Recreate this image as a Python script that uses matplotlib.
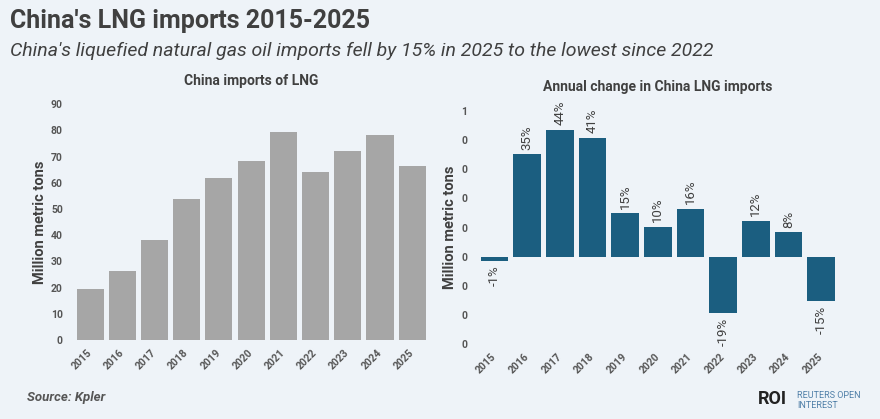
import matplotlib
matplotlib.use("Agg")
import matplotlib.pyplot as plt
from matplotlib.ticker import FuncFormatter
import numpy as np

# China LNG imports, million metric tons
years = ["2015", "2016", "2017", "2018", "2019", "2020", "2021", "2022", "2023", "2024", "2025"]
imports_mt = [19.6, 26.5, 38.3, 53.9, 61.8, 68.2, 79.5, 64.0, 72.0, 78.2, 66.5]
# annual change, fraction
annual_change = [-0.014, 0.35, 0.435, 0.408, 0.148, 0.102, 0.164, -0.194, 0.123, 0.083, -0.151]

BG = "#eef3f8"
GREY_BAR = "#a6a6a6"
TEAL = "#1b5e80"
TXT = "#404040"
TICK = "#555555"

plt.rcParams["font.family"] = ["Roboto", "DejaVu Sans"]

fig = plt.figure(figsize=(8.8, 4.19), dpi=100)
fig.patch.set_facecolor(BG)

W, H = 880.0, 419.0


def ax_rect(x0, y_top, x1, y_bot):
    return [x0 / W, 1 - y_bot / H, (x1 - x0) / W, (y_bot - y_top) / H]


ax1 = fig.add_axes(ax_rect(74, 104.3, 428.3, 340))
ax2 = fig.add_axes(ax_rect(478.2, 110.7, 837.5, 344.3))

x = np.arange(len(years))

# left panel
ax1.bar(x, imports_mt, width=0.84, color=GREY_BAR)
ax1.set_xlim(-0.5, len(years) - 0.5)
ax1.set_ylim(0, 90)
ax1.set_yticks(range(0, 91, 10))
ax1.set_ylabel("Million metric tons", fontsize=10.5, fontweight="bold", color=TXT, labelpad=3)

# right panel
ax2.bar(x, annual_change, width=0.85, color=TEAL)
ax2.set_xlim(-0.5, len(years) - 0.5)
ax2.set_ylim(-0.3, 0.5)
ax2.set_yticks(np.arange(-0.3, 0.51, 0.1))
ax2.yaxis.set_major_formatter(FuncFormatter(lambda v, p: f"{int(abs(v) + 0.5 + 1e-9)}"))
ax2.set_ylabel("Million metric tons", fontsize=10.5, fontweight="bold", color=TXT, labelpad=3)

for i, v in enumerate(annual_change):
    lab = f"{round(v * 100):d}%"
    if v >= 0:
        ax2.annotate(lab, (i, v), xytext=(0, 3.5), textcoords="offset points",
                     rotation=90, ha="center", va="bottom", fontsize=9.5, color=TXT)
    else:
        ax2.annotate(lab, (i, v), xytext=(0, -3.5), textcoords="offset points",
                     rotation=90, ha="center", va="top", fontsize=9.5, color=TXT)

for ax in (ax1, ax2):
    ax.set_facecolor(BG)
    for s in ax.spines.values():
        s.set_visible(False)
    ax.tick_params(axis="both", length=0)
    ax.tick_params(axis="y", pad=8, labelsize=7.5, labelcolor=TICK)
    ax.set_xticks(x)
    ax.set_xticklabels(years, rotation=45, ha="right", va="center",
                       rotation_mode="anchor", fontsize=7.5, color=TICK, fontweight="bold")
    ax.tick_params(axis="x", pad=8)
    for t in ax.get_yticklabels():
        t.set_fontweight("bold")

ax1.set_title("China imports of LNG", fontsize=10, fontweight="bold", color=TXT, pad=14)
ax2.set_title("Annual change in China LNG imports", fontsize=10, fontweight="bold", color=TXT, pad=14)

fig.text(10 / W, 1 - 21 / H, "China's LNG imports 2015-2025", fontsize=18, fontweight="bold",
         color=TXT, va="center", ha="left")
fig.text(10 / W, 1 - 51 / H, "China's liquefied natural gas oil imports fell by 15% in 2025 to the lowest since 2022",
         fontsize=14, style="italic", color=TXT, va="center", ha="left")
fig.text(27 / W, 1 - 397 / H, "Source: Kpler", fontsize=9.5, style="italic", fontweight="bold",
         color="#555555", va="center", ha="left")

fig.text(758 / W, 1 - 399 / H, "ROI", fontsize=13, fontweight="bold", color="#222222",
         va="center", ha="left")
fig.text(797 / W, 1 - 395.5 / H, "REUTERS OPEN", fontsize=6.5, color="#4f7fa8", va="center", ha="left")
fig.text(797 / W, 1 - 405 / H, "INTEREST", fontsize=6.5, color="#4f7fa8", va="center", ha="left")

fig.savefig("out.png", dpi=100, facecolor=BG)
